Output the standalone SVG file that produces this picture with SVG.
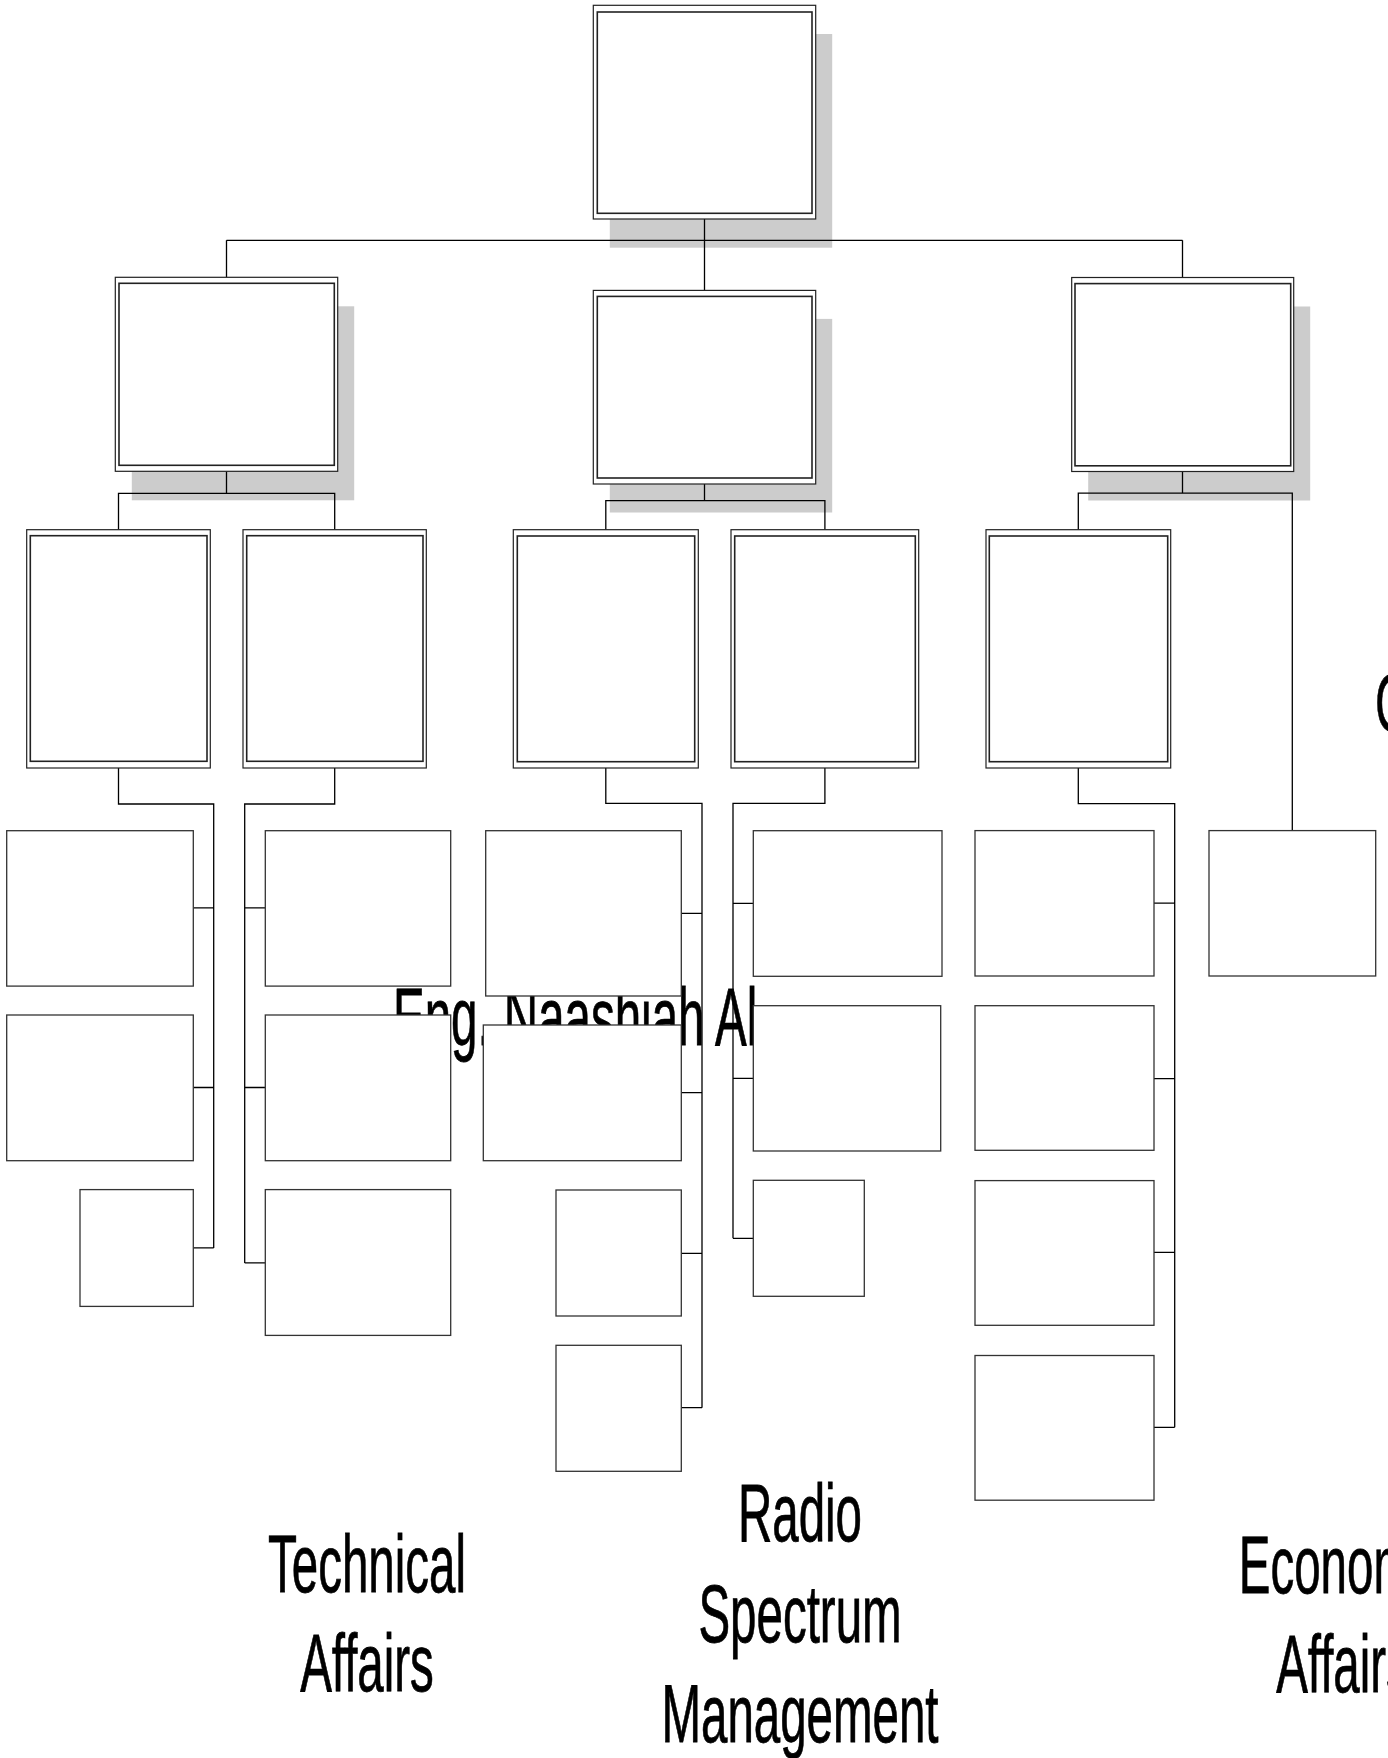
<svg xmlns="http://www.w3.org/2000/svg" width="1388" height="1758" viewBox="0 0 1388 1758">
<style>
.sh{fill:#cccccc}
.ob{fill:#ffffff;stroke:#222;stroke-width:1.2}
.ib{fill:none;stroke:#222;stroke-width:1.6}
.lf{fill:#ffffff;stroke:#333;stroke-width:1.3}
.cn{fill:none;stroke:#000;stroke-width:1.3}
.tx{font-family:"Liberation Sans",Arial,sans-serif;font-size:82px;fill:#000;stroke:#000;stroke-width:0.8}
</style>
<rect width="1388" height="1758" fill="#ffffff"/>
<g id="shadows">
<rect class="sh" x="609.8" y="34" width="222.4" height="213.7"/>
<rect class="sh" x="131.8" y="306.3" width="222.4" height="194"/>
<rect class="sh" x="609.8" y="318.9" width="222.4" height="193.6"/>
<rect class="sh" x="1088.2" y="306.5" width="222" height="194"/>
</g>
<g id="label-eng" transform="translate(393,0) scale(0.579,1)"><text class="tx" x="0" y="1045">Eng. Naashiah Al</text></g>
<g id="connectors">
<path class="cn" d="M704.5 219V290.4M226.5 240.3H1182.5M226.5 240.3V277.3M1182.5 240.3V277.5"/>
<path class="cn" d="M226.5 471.3V493.3M118.5 529.7V493.3H334.7V529.7"/>
<path class="cn" d="M704.5 484V500.7M605.8 529.7V500.7H824.9V529.7"/>
<path class="cn" d="M1182.5 471.4V493.1M1078.3 529.7V493.1H1292.3V830.6"/>
<path class="cn" d="M118.5 768V804H213.7V1247.9M193.3 907.9H213.7M193.3 1087.5H213.7M193.3 1247.9H213.7"/>
<path class="cn" d="M334.7 768V804H244.7V1262.9M244.7 907.9H265.3M244.7 1087.5H265.3M244.7 1262.9H265.3"/>
<path class="cn" d="M605.8 768V803.3H702V1407.7M681.3 913.3H702M681.3 1092.7H702M681.3 1253.3H702M681.3 1407.7H702"/>
<path class="cn" d="M824.9 768V803.3H733V1238.3M733 903.3H753.3M733 1078.3H753.3M733 1238.3H753.3"/>
<path class="cn" d="M1078.3 768V803.6H1174.7V1427.3M1154 903.2H1174.7M1154 1078.6H1174.7M1154 1252.4H1174.7M1154 1427.3H1174.7"/>
</g>
<g id="n-top"><rect class="ob" x="593.3" y="5.3" width="222.4" height="213.7"/><rect class="ib" x="597.3" y="12" width="214.7" height="201.3"/></g>
<g id="n-l2-left"><rect class="ob" x="115.3" y="277.3" width="222.4" height="194"/><rect class="ib" x="119" y="283.3" width="215.3" height="182"/></g>
<g id="n-l2-center"><rect class="ob" x="593.3" y="290.4" width="222.4" height="193.6"/><rect class="ib" x="597.3" y="296.4" width="214.7" height="181.6"/></g>
<g id="n-l2-right"><rect class="ob" x="1071.7" y="277.5" width="222" height="194"/><rect class="ib" x="1075" y="283.6" width="215.7" height="182.2"/></g>
<g id="n-l3-a"><rect class="ob" x="26.7" y="529.7" width="183.6" height="238.3"/><rect class="ib" x="30.3" y="535.7" width="176.7" height="225.6"/></g>
<g id="n-l3-b"><rect class="ob" x="243" y="529.7" width="183.3" height="238.3"/><rect class="ib" x="246.7" y="535.7" width="176.3" height="225.6"/></g>
<g id="n-l3-c"><rect class="ob" x="513.3" y="529.7" width="185" height="238.3"/><rect class="ib" x="517.3" y="536" width="177.4" height="225.7"/></g>
<g id="n-l3-d"><rect class="ob" x="731" y="529.7" width="187.7" height="238.3"/><rect class="ib" x="734.7" y="536" width="180.6" height="225.7"/></g>
<g id="n-l3-e"><rect class="ob" x="986" y="529.7" width="184.7" height="238.3"/><rect class="ib" x="989.3" y="536" width="178.4" height="225.7"/></g>
<g id="n-a1"><rect class="lf" x="6.7" y="830.7" width="186.6" height="155.4"/></g>
<g id="n-a2"><rect class="lf" x="6.7" y="1015" width="186.6" height="145.7"/></g>
<g id="n-a3"><rect class="lf" x="80" y="1189.6" width="113.3" height="116.8"/></g>
<g id="n-b1"><rect class="lf" x="265.3" y="830.7" width="185.4" height="155.4"/></g>
<g id="n-b2"><rect class="lf" x="265.3" y="1015" width="185.4" height="145.7"/></g>
<g id="n-b3"><rect class="lf" x="265.3" y="1189.6" width="185.4" height="145.8"/></g>
<g id="n-c1"><rect class="lf" x="485.7" y="830.7" width="195.6" height="165.3"/></g>
<g id="n-c2"><rect class="lf" x="483.3" y="1025" width="198" height="135.7"/></g>
<g id="n-c3"><rect class="lf" x="556" y="1190" width="125.3" height="126"/></g>
<g id="n-c4"><rect class="lf" x="556" y="1345.3" width="125.3" height="126"/></g>
<g id="n-d1"><rect class="lf" x="753.3" y="830.7" width="188.7" height="145.6"/></g>
<g id="n-d2"><rect class="lf" x="753.3" y="1005.7" width="187.4" height="145.3"/></g>
<g id="n-d3"><rect class="lf" x="753.3" y="1180.3" width="111" height="116"/></g>
<g id="n-e1"><rect class="lf" x="975" y="830.6" width="179" height="145.4"/></g>
<g id="n-e2"><rect class="lf" x="975" y="1005.7" width="179" height="144.6"/></g>
<g id="n-e3"><rect class="lf" x="975" y="1180.6" width="179" height="144.7"/></g>
<g id="n-e4"><rect class="lf" x="975" y="1355.5" width="179" height="144.7"/></g>
<g id="n-f"><rect class="lf" x="1209" y="830.6" width="166.7" height="145.4"/></g>
<g id="label-c" transform="translate(1375,0) scale(0.579,1)"><text class="tx" x="0" y="731">C</text></g>
<g id="label-technical" transform="translate(367,0) scale(0.579,1)"><text class="tx" x="0" y="1591.7" text-anchor="middle">Technical</text><text class="tx" x="0" y="1690.7" text-anchor="middle">Affairs</text></g>
<g id="label-radio" transform="translate(800,0) scale(0.579,1)"><text class="tx" x="0" y="1540.7" text-anchor="middle">Radio</text><text class="tx" x="0" y="1641.7" text-anchor="middle">Spectrum</text><text class="tx" x="0" y="1742.3" text-anchor="middle">Management</text></g>
<g id="label-economic" transform="translate(1343,0) scale(0.579,1)"><text class="tx" x="0" y="1593.3" text-anchor="middle">Economic</text><text class="tx" x="0" y="1691.7" text-anchor="middle">Affairs</text></g>
</svg>
